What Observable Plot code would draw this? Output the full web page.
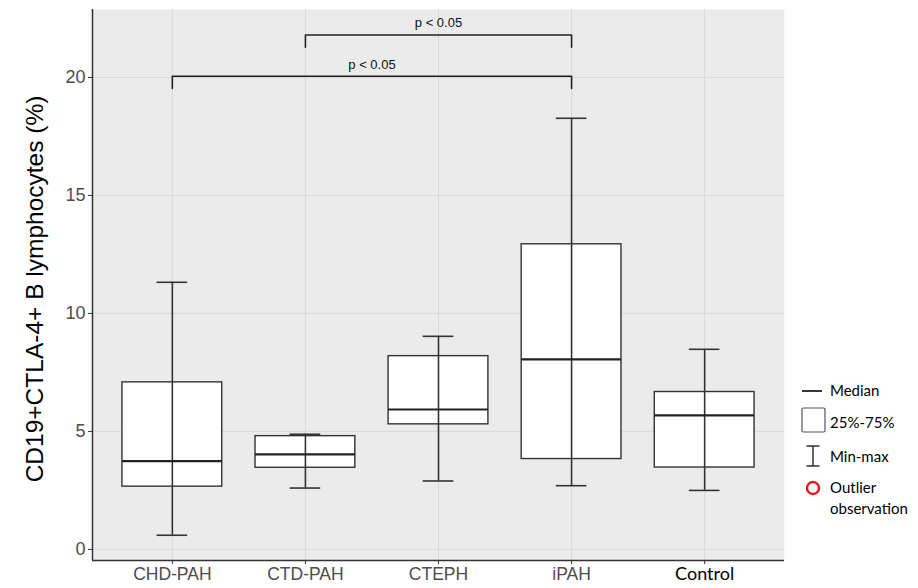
<!DOCTYPE html>
<html><head><meta charset="utf-8">
<script src="https://cdn.jsdelivr.net/npm/d3@7"></script>
<script src="https://cdn.jsdelivr.net/npm/@observablehq/plot@0.6"></script>
<style>
body{margin:0;background:#fff;}
#wrap{position:relative;width:918px;height:588px;overflow:hidden;}
#legend{position:absolute;left:0;top:0;}
</style>
</head><body><div id="wrap"></div>
<script>
// ---- data ----
const categories   = ["CHD-PAH", "CTD-PAH", "CTEPH", "iPAH", "Control"];
const minValues    = [0.60, 2.60, 2.90, 2.70, 2.50];
const q1Values     = [2.66, 3.46, 5.30, 3.83, 3.47];
const medianValues = [3.74, 4.03, 5.93, 8.05, 5.68];
const q3Values     = [7.08, 4.80, 8.19, 12.93, 6.67];
const maxValues    = [11.32, 4.88, 9.03, 18.27, 8.48];
const yTicks       = [0, 5, 10, 15, 20];
const comparisonFrom   = ["CHD-PAH", "CTD-PAH"];
const comparisonTo     = ["iPAH", "iPAH"];
const comparisonLevel  = [20.05, 21.8];
const comparisonLabels = ["p < 0.05", "p < 0.05"];
const yTitle = "CD19+CTLA-4+ B lymphocytes (%)";
const legendLabels = ["Median", "25%-75%", "Min-max", "Outlier", "observation"];

// ---- derived tables ----
const boxes = categories.map((c, i) => ({
  i, c, min: minValues[i], q1: q1Values[i], median: medianValues[i], q3: q3Values[i], max: maxValues[i]
}));
const half = 0.375, cap = 0.115, leg = 0.52, labelGap = 0.5;
const comparisons = comparisonFrom.map((f, k) => ({
  k, a: categories.indexOf(f), b: categories.indexOf(comparisonTo[k]), y: comparisonLevel[k], label: comparisonLabels[k]
}));
const bracketPts = comparisons.flatMap(d => [
  {k: d.k, x: d.a, y: d.y - leg}, {k: d.k, x: d.a, y: d.y}, {k: d.k, x: d.b, y: d.y}, {k: d.k, x: d.b, y: d.y - leg}
]);
const xDomain = [-0.6, categories.length - 1 + 0.6];
const yDomain = [-0.47, 22.88];
const idx = d3.range(categories.length);
const ink = "#333333";

const plot = Plot.plot({
  width: 918, height: 588,
  marginLeft: 92, marginRight: 134, marginTop: 9, marginBottom: 28,
  style: {fontFamily: "'Liberation Sans', Arial, sans-serif", fontSize: "17px", background: "transparent", overflow: "visible"},
  x: {domain: xDomain},
  y: {domain: yDomain},
  marks: [
    Plot.frame({fill: "#ebebeb"}),
    Plot.gridY(yTicks, {stroke: "#d9d9d9", strokeOpacity: 1, strokeWidth: 1}),
    Plot.gridX(idx, {stroke: "#d9d9d9", strokeOpacity: 1, strokeWidth: 1}),
    Plot.rect(boxes, {x1: d => d.i - half, x2: d => d.i + half, y1: "q1", y2: "q3", fill: "white", stroke: ink, strokeWidth: 1.4}),
    Plot.ruleX(boxes, {x: "i", y1: "min", y2: "max", stroke: ink, strokeWidth: 1.6}),
    Plot.ruleY(boxes, {y: "median", x1: d => d.i - half, x2: d => d.i + half, stroke: "#222", strokeWidth: 2.2}),
    Plot.ruleY(boxes, {y: "min", x1: d => d.i - cap, x2: d => d.i + cap, stroke: ink, strokeWidth: 1.6}),
    Plot.ruleY(boxes, {y: "max", x1: d => d.i - cap, x2: d => d.i + cap, stroke: ink, strokeWidth: 1.6}),
    Plot.line(bracketPts, {x: "x", y: "y", z: "k", stroke: "#222", strokeWidth: 1.6}),
    Plot.text(comparisons, {x: d => (d.a + d.b) / 2, y: d => d.y + labelGap, text: "label", fontSize: 13, fill: "#111",
      fontFamily: "'Liberation Sans', Arial, sans-serif"}),
    Plot.axisY(yTicks, {tickSize: 4, tickPadding: 3, fill: "#4d4d4d", stroke: ink, label: null, fontSize: 18}),
    Plot.axisX(idx, {tickSize: 4, tickPadding: 3, tickFormat: i => categories[i], fill: "#4d4d4d", stroke: ink, label: null,
      fontSize: 17.5, fontFamily: "'Liberation Sans Narrow', 'Liberation Sans', Arial, sans-serif"}),
    Plot.ruleX([xDomain[0]], {stroke: ink, strokeWidth: 1.5}),
    Plot.ruleY([yDomain[0]], {stroke: ink, strokeWidth: 1.5}),
    Plot.text([yTitle], {frameAnchor: "left", rotate: -90, dx: -57, dy: 4, textAnchor: "middle", text: d => d, fontSize: 24.5, fill: "#000"})
  ]
});

document.getElementById("wrap").appendChild(plot);

// style the "Control" tick label like the reference (darker, different face)
d3.select(plot).selectAll("text").filter(function() { return this.textContent === "Control"; })
  .attr("fill", "#000").style("fill", "#000").attr("font-family", "Lato, 'Open Sans', sans-serif").attr("font-size", 18);

// ---- legend (outside the panel, right side) ----
const lg = d3.select("#wrap").append("svg").attr("id", "legend").attr("width", 918).attr("height", 588)
  .style("font-family", "Lato, 'Open Sans', sans-serif").style("font-size", "15px");
lg.append("line").attr("x1", 802).attr("x2", 822).attr("y1", 391).attr("y2", 391).attr("stroke", "#222").attr("stroke-width", 1.8);
lg.append("text").attr("x", 830).attr("y", 391).attr("dy", "0.35em").text(legendLabels[0]);
lg.append("rect").attr("x", 802).attr("y", 408).attr("width", 23).attr("height", 24).attr("fill", "white").attr("stroke", "#555").attr("stroke-width", 1.2).attr("rx", 1.5);
lg.append("text").attr("x", 830).attr("y", 423).attr("dy", "0.35em").text(legendLabels[1]);
lg.append("line").attr("x1", 813).attr("x2", 813).attr("y1", 446).attr("y2", 466).attr("stroke", "#222").attr("stroke-width", 1.4);
lg.append("line").attr("x1", 806.5).attr("x2", 819.5).attr("y1", 446).attr("y2", 446).attr("stroke", "#222").attr("stroke-width", 1.4);
lg.append("line").attr("x1", 806.5).attr("x2", 819.5).attr("y1", 466).attr("y2", 466).attr("stroke", "#222").attr("stroke-width", 1.4);
lg.append("text").attr("x", 830).attr("y", 457).attr("dy", "0.35em").text(legendLabels[2]);
lg.append("circle").attr("cx", 813).attr("cy", 488).attr("r", 6).attr("fill", "none").attr("stroke", "#e8141c").attr("stroke-width", 2.4);
lg.append("text").attr("x", 830).attr("y", 488).attr("dy", "0.35em").text(legendLabels[3]);
lg.append("text").attr("x", 830).attr("y", 509).attr("dy", "0.35em").text(legendLabels[4]);
</script>
</body></html>
